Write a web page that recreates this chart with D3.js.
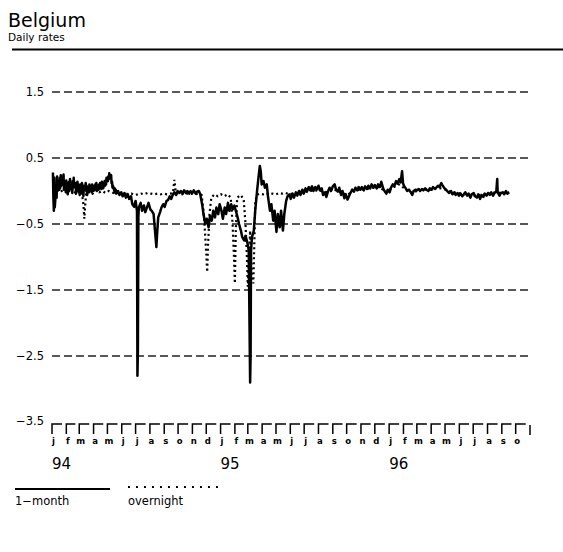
<!DOCTYPE html>
<html>
<head>
<meta charset="utf-8">
<script src="https://cdn.jsdelivr.net/npm/d3@7"></script>
<style>
  body { margin: 0; background: #fff; }
  svg { display: block; font-family: "DejaVu Sans", sans-serif; }
</style>
</head>
<body>
<div id="chart"></div>
<script>
// y grid values and month labels
var yTicks = [1.5, 0.5, -0.5, -1.5, -2.5, -3.5];
var monthLetters = ["j","f","m","a","m","j","j","a","s","o","n","d"];
var yearLabels = [["1994-01-01","94"], ["1995-01-01","95"], ["1996-01-01","96"]];

// 1-month rate
var oneMonth = [
  ["1994-01-03",0.28],["1994-01-04",-0.1],["1994-01-05",-0.3],["1994-01-06",0.2],["1994-01-07",-0.25],
  ["1994-01-10",0.05],["1994-01-11",-0.1],["1994-01-12",0.22],["1994-01-13",0.0],["1994-01-14",0.15],
  ["1994-01-17",0.02],["1994-01-18",0.2],["1994-01-19",0.05],["1994-01-20",0.24],["1994-01-21",0.08],
  ["1994-01-24",0.22],["1994-01-25",0.12],["1994-01-26",0.25],["1994-01-27",0.02],["1994-01-28",0.14],
  ["1994-01-31",-0.02],["1994-02-01",0.16],["1994-02-02",0.0],["1994-02-03",0.12],["1994-02-04",-0.05],
  ["1994-02-07",0.14],["1994-02-08",0.02],["1994-02-09",0.18],["1994-02-10",0.04],["1994-02-11",0.12],
  ["1994-02-14",-0.03],["1994-02-15",0.15],["1994-02-16",0.05],["1994-02-17",0.2],["1994-02-18",0.06],
  ["1994-02-21",0.12],["1994-02-22",-0.04],["1994-02-23",0.1],["1994-02-24",0.0],["1994-02-25",0.14],
  ["1994-02-28",-0.02],["1994-03-01",0.08],["1994-03-02",-0.06],["1994-03-03",0.1],["1994-03-04",0.0],
  ["1994-03-07",0.12],["1994-03-08",-0.04],["1994-03-09",0.06],["1994-03-10",-0.08],["1994-03-11",0.08],
  ["1994-03-14",0.02],["1994-03-15",0.12],["1994-03-16",0.0],["1994-03-17",0.08],["1994-03-18",-0.06],
  ["1994-03-21",0.06],["1994-03-22",-0.02],["1994-03-23",0.1],["1994-03-24",0.02],["1994-03-25",0.08],
  ["1994-03-28",-0.02],["1994-03-29",0.1],["1994-03-30",0.02],["1994-03-31",0.08],["1994-04-01",0.0],
  ["1994-04-05",0.1],["1994-04-06",0.02],["1994-04-07",0.12],["1994-04-08",0.0],["1994-04-11",0.08],
  ["1994-04-12",0.02],["1994-04-13",0.1],["1994-04-14",0.04],["1994-04-15",0.12],["1994-04-18",0.03],
  ["1994-04-19",0.14],["1994-04-20",0.06],["1994-04-21",0.12],["1994-04-22",0.04],["1994-04-25",0.15],
  ["1994-04-26",0.08],["1994-04-27",0.16],["1994-04-28",0.1],["1994-04-29",0.2],["1994-05-02",0.15],
  ["1994-05-03",0.22],["1994-05-04",0.18],["1994-05-05",0.27],["1994-05-06",0.2],["1994-05-09",0.24],
  ["1994-05-10",0.12],["1994-05-11",0.14],["1994-05-12",0.05],["1994-05-13",0.08],["1994-05-16",0.0],
  ["1994-05-17",0.04],["1994-05-18",-0.03],["1994-05-19",0.02],["1994-05-20",-0.04],["1994-05-24",0.0],
  ["1994-05-27",-0.06],["1994-05-31",-0.02],["1994-06-03",-0.08],["1994-06-07",-0.03],["1994-06-10",-0.1],
  ["1994-06-14",-0.05],["1994-06-17",-0.12],["1994-06-21",-0.08],["1994-06-24",-0.2],["1994-06-28",-0.24],
  ["1994-07-01",-0.15],["1994-07-04",-0.3],["1994-07-05",-2.8],["1994-07-06",-2.4],["1994-07-07",-0.4],
  ["1994-07-08",-0.25],["1994-07-12",-0.18],["1994-07-15",-0.3],["1994-07-19",-0.22],["1994-07-22",-0.32],
  ["1994-07-26",-0.24],["1994-07-29",-0.18],["1994-08-02",-0.28],["1994-08-05",-0.3],["1994-08-09",-0.35],
  ["1994-08-12",-0.6],["1994-08-15",-0.85],["1994-08-17",-0.6],["1994-08-19",-0.4],["1994-08-23",-0.32],
  ["1994-08-26",-0.25],["1994-08-30",-0.2],["1994-09-02",-0.24],["1994-09-06",-0.15],["1994-09-09",-0.14],
  ["1994-09-13",-0.08],["1994-09-16",-0.12],["1994-09-20",-0.05],["1994-09-23",-0.02],["1994-09-27",-0.06],
  ["1994-09-30",0.0],["1994-10-04",-0.03],["1994-10-07",0.0],["1994-10-11",-0.04],["1994-10-14",0.01],
  ["1994-10-18",-0.03],["1994-10-21",0.0],["1994-10-25",-0.04],["1994-10-28",0.0],["1994-11-01",-0.03],
  ["1994-11-04",0.01],["1994-11-08",-0.04],["1994-11-11",-0.01],["1994-11-15",0.0],["1994-11-18",-0.05],
  ["1994-11-22",-0.2],["1994-11-25",-0.35],["1994-11-29",-0.5],["1994-12-02",-0.42],["1994-12-06",-0.55],
  ["1994-12-09",-0.38],["1994-12-13",-0.45],["1994-12-16",-0.3],["1994-12-20",-0.4],["1994-12-23",-0.25],
  ["1994-12-27",-0.35],["1994-12-30",-0.2],["1995-01-03",-0.3],["1995-01-06",-0.42],["1995-01-10",-0.25],
  ["1995-01-13",-0.35],["1995-01-17",-0.18],["1995-01-20",-0.3],["1995-01-24",-0.2],["1995-01-27",-0.28],
  ["1995-01-31",-0.22],["1995-02-03",-0.3],["1995-02-07",-0.4],["1995-02-10",-0.5],["1995-02-14",-0.6],
  ["1995-02-17",-0.7],["1995-02-21",-0.75],["1995-02-24",-0.68],["1995-02-28",-0.78],["1995-03-03",-0.9],
  ["1995-03-06",-2.9],["1995-03-07",-2.5],["1995-03-08",-0.9],["1995-03-10",-0.7],["1995-03-14",-0.6],
  ["1995-03-17",-0.3],["1995-03-21",0.0],["1995-03-24",0.2],["1995-03-27",0.38],["1995-03-29",0.3],
  ["1995-03-31",0.1],["1995-04-04",0.15],["1995-04-07",0.05],["1995-04-11",0.1],["1995-04-14",-0.1],
  ["1995-04-18",-0.3],["1995-04-21",-0.2],["1995-04-25",-0.45],["1995-04-28",-0.3],["1995-05-02",-0.62],
  ["1995-05-05",-0.35],["1995-05-09",-0.55],["1995-05-12",-0.3],["1995-05-16",-0.6],["1995-05-19",-0.35],
  ["1995-05-23",-0.15],["1995-05-26",-0.08],["1995-05-30",-0.05],["1995-06-02",-0.12],["1995-06-06",-0.04],
  ["1995-06-09",-0.1],["1995-06-13",-0.02],["1995-06-16",-0.07],["1995-06-20",0.0],["1995-06-23",-0.06],
  ["1995-06-27",0.02],["1995-06-30",-0.04],["1995-07-04",0.04],["1995-07-07",-0.01],["1995-07-11",0.06],
  ["1995-07-14",0.01],["1995-07-18",0.07],["1995-07-21",0.0],["1995-07-25",0.06],["1995-07-28",0.02],
  ["1995-08-01",0.08],["1995-08-04",0.01],["1995-08-08",0.04],["1995-08-11",-0.06],["1995-08-15",-0.02],
  ["1995-08-18",-0.09],["1995-08-22",0.0],["1995-08-25",0.05],["1995-08-29",0.01],["1995-09-01",0.07],
  ["1995-09-05",0.1],["1995-09-08",0.02],["1995-09-12",-0.01],["1995-09-15",0.05],["1995-09-19",-0.06],
  ["1995-09-22",0.0],["1995-09-26",-0.11],["1995-09-29",-0.05],["1995-10-03",-0.13],["1995-10-06",-0.08],
  ["1995-10-10",-0.02],["1995-10-13",0.02],["1995-10-17",-0.01],["1995-10-20",0.05],["1995-10-24",0.01],
  ["1995-10-27",0.06],["1995-10-31",0.02],["1995-11-03",0.06],["1995-11-07",0.01],["1995-11-10",0.07],
  ["1995-11-14",0.03],["1995-11-17",0.08],["1995-11-21",0.04],["1995-11-24",0.1],["1995-11-28",0.05],
  ["1995-12-01",0.09],["1995-12-05",0.04],["1995-12-08",0.1],["1995-12-12",0.06],["1995-12-15",0.14],
  ["1995-12-19",0.04],["1995-12-22",0.0],["1995-12-26",-0.04],["1995-12-29",0.02],["1996-01-02",-0.02],
  ["1996-01-05",0.05],["1996-01-09",0.1],["1996-01-12",0.07],["1996-01-16",0.15],["1996-01-19",0.11],
  ["1996-01-23",0.18],["1996-01-26",0.13],["1996-01-29",0.3],["1996-01-31",0.12],["1996-02-02",0.08],
  ["1996-02-06",0.04],["1996-02-09",0.0],["1996-02-13",0.02],["1996-02-16",-0.01],["1996-02-20",-0.06],
  ["1996-02-23",0.0],["1996-02-27",0.02],["1996-03-01",0.01],["1996-03-05",0.03],["1996-03-08",0.0],
  ["1996-03-12",0.03],["1996-03-15",0.01],["1996-03-19",0.04],["1996-03-22",0.02],["1996-03-26",0.0],
  ["1996-03-29",0.04],["1996-04-02",0.02],["1996-04-05",0.06],["1996-04-09",0.03],["1996-04-12",0.05],
  ["1996-04-16",0.08],["1996-04-19",0.06],["1996-04-23",0.12],["1996-04-26",0.08],["1996-04-30",0.04],
  ["1996-05-03",0.02],["1996-05-07",-0.01],["1996-05-10",-0.03],["1996-05-14",0.0],["1996-05-17",-0.05],
  ["1996-05-21",-0.02],["1996-05-24",-0.06],["1996-05-28",-0.03],["1996-05-31",-0.07],["1996-06-04",-0.04],
  ["1996-06-07",-0.08],["1996-06-11",-0.05],["1996-06-14",-0.02],["1996-06-18",-0.07],["1996-06-21",-0.04],
  ["1996-06-25",-0.1],["1996-06-28",-0.05],["1996-07-02",-0.03],["1996-07-05",-0.08],["1996-07-09",-0.1],
  ["1996-07-12",-0.05],["1996-07-16",-0.12],["1996-07-19",-0.06],["1996-07-23",-0.09],["1996-07-26",-0.04],
  ["1996-07-30",-0.07],["1996-08-02",-0.03],["1996-08-06",-0.06],["1996-08-09",-0.02],["1996-08-13",-0.07],
  ["1996-08-16",-0.03],["1996-08-20",-0.01],["1996-08-22",0.18],["1996-08-23",-0.02],["1996-08-27",-0.07],
  ["1996-08-30",-0.03],["1996-09-03",-0.02],["1996-09-06",-0.05],["1996-09-10",0.0],["1996-09-13",-0.04],
  ["1996-09-17",-0.02]
];

// overnight rate
var overnight = [
  ["1994-01-03",0.1],["1994-01-10",0.0],["1994-01-17",0.05],["1994-01-24",-0.02],["1994-01-31",0.08],
  ["1994-02-07",0.0],["1994-02-14",0.05],["1994-02-21",-0.03],["1994-02-28",0.02],["1994-03-07",-0.05],
  ["1994-03-10",-0.2],["1994-03-12",-0.42],["1994-03-14",-0.2],["1994-03-16",-0.02],["1994-03-23",0.0],
  ["1994-03-30",-0.04],["1994-04-06",0.02],["1994-04-13",-0.02],["1994-04-20",0.0],["1994-04-27",-0.03],
  ["1994-05-04",0.0],["1994-05-11",-0.02],["1994-05-18",-0.04],["1994-05-25",-0.03],["1994-06-01",-0.05],
  ["1994-06-08",-0.03],["1994-06-15",-0.05],["1994-06-22",-0.04],["1994-06-29",-0.06],["1994-07-06",-0.05],
  ["1994-07-13",-0.04],["1994-07-20",-0.05],["1994-07-27",-0.03],["1994-08-03",-0.04],["1994-08-10",-0.05],
  ["1994-08-17",-0.04],["1994-08-24",-0.05],["1994-08-31",-0.04],["1994-09-07",-0.05],["1994-09-14",-0.04],
  ["1994-09-20",-0.03],["1994-09-23",0.17],["1994-09-26",-0.02],["1994-10-03",-0.04],["1994-10-10",-0.05],
  ["1994-10-17",-0.03],["1994-10-24",-0.05],["1994-10-31",-0.04],["1994-11-07",-0.05],["1994-11-14",-0.04],
  ["1994-11-21",-0.06],["1994-11-25",-0.3],["1994-11-28",-0.6],["1994-12-01",-0.95],["1994-12-03",-1.23],
  ["1994-12-05",-0.8],["1994-12-08",-0.35],["1994-12-12",-0.1],["1994-12-19",-0.05],["1994-12-26",-0.08],
  ["1995-01-02",-0.05],["1995-01-09",-0.08],["1995-01-16",-0.05],["1995-01-23",-0.1],["1995-01-27",-0.5],
  ["1995-01-30",-1.0],["1995-02-01",-1.4],["1995-02-03",-0.6],["1995-02-06",-0.1],["1995-02-13",-0.06],
  ["1995-02-20",-0.12],["1995-02-24",-0.5],["1995-02-27",-1.0],["1995-03-01",-1.45],["1995-03-03",-1.1],
  ["1995-03-06",-0.6],["1995-03-09",-1.2],["1995-03-13",-1.4],["1995-03-15",-0.8],["1995-03-17",-0.2],
  ["1995-03-20",-0.06],["1995-03-27",-0.04],["1995-04-03",-0.05],["1995-04-10",-0.03],["1995-04-17",-0.05],
  ["1995-04-24",-0.04],["1995-05-01",-0.05],["1995-05-08",-0.03],["1995-05-15",-0.04],["1995-05-22",-0.03],
  ["1995-05-29",-0.05],["1995-06-12",-0.03],["1995-06-26",-0.02],["1995-07-10",0.0],["1995-07-24",0.01],
  ["1995-08-07",0.0],["1995-08-21",-0.02],["1995-09-04",0.02],["1995-09-18",-0.02],["1995-10-02",-0.06],
  ["1995-10-16",0.0],["1995-10-30",0.02],["1995-11-13",0.03],["1995-11-27",0.05],["1995-12-11",0.06],
  ["1995-12-25",-0.02],["1996-01-08",0.05],["1996-01-22",0.1],["1996-02-05",0.03],["1996-02-19",-0.03],
  ["1996-03-04",0.01],["1996-03-18",0.02],["1996-04-01",0.02],["1996-04-15",0.05],["1996-04-29",0.03],
  ["1996-05-13",-0.01],["1996-05-27",-0.03],["1996-06-10",-0.04],["1996-06-24",-0.06],["1996-07-08",-0.07],
  ["1996-07-22",-0.05],["1996-08-05",-0.04],["1996-08-19",-0.02],["1996-09-02",-0.03],["1996-09-16",-0.02]
];

var W = 563, H = 552;
var pad = {l: 52, r: 33, t: 92, b: 130};
var parse = d3.timeParse("%Y-%m-%d");

var svg = d3.select("#chart").append("svg")
  .attr("width", W)
  .attr("height", H);

var x = d3.scaleTime()
  .domain([parse("1994-01-01"), parse("1996-11-01")])
  .range([pad.l, W - pad.r]);

var y = d3.scaleLinear()
  .domain([1.5, -3.5])
  .range([pad.t, 422]);

// title block
svg.append("text").attr("x", 8).attr("y", 27)
  .attr("font-size", 19).text("Belgium");
svg.append("text").attr("x", 8).attr("y", 41)
  .attr("font-size", 10.5).text("Daily rates");
svg.append("line")
  .attr("x1", 12).attr("x2", W).attr("y1", 49.5).attr("y2", 49.5)
  .attr("stroke", "#000").attr("stroke-width", 1.8);

// dashed grid lines (not at the bottom one)
svg.append("g").attr("class", "grid")
  .selectAll("line")
  .data(yTicks.filter(d => d > -3.5))
  .enter().append("line")
    .attr("x1", pad.l).attr("x2", W - pad.r)
    .attr("y1", d => y(d)).attr("y2", d => y(d))
    .attr("stroke", "#222")
    .attr("stroke-width", 1.4)
    .attr("stroke-dasharray", "8,4");

svg.append("g").attr("class", "ylabels")
  .selectAll("text")
  .data(yTicks)
  .enter().append("text")
    .attr("x", 44)
    .attr("y", d => y(d) - (d === -3.5 ? 1 : 0))
    .attr("dy", "0.35em")
    .attr("text-anchor", "end")
    .attr("font-size", 11.5)
    .text(d => d3.format(".1f")(d).replace("-", "\u2212"));

// month ticks, drawn as little corner brackets
var months = d3.timeMonth.range(x.domain()[0], x.domain()[1]);
var ty = 424;
var ticks = svg.append("g").attr("class", "axis x");
ticks.selectAll("path")
  .data(months)
  .enter().append("path")
    .attr("d", d => {
      var x0 = x(d), x1 = x(d3.timeMonth.offset(d, 1));
      return "M" + x0 + "," + (ty + 10) + "V" + ty + "H" + (x0 + (x1 - x0) * 0.7);
    })
    .attr("fill", "none")
    .attr("stroke", "#000")
    .attr("stroke-width", 1.5);
ticks.append("line")
  .attr("x1", x.range()[1]).attr("x2", x.range()[1])
  .attr("y1", ty + 1).attr("y2", ty + 11)
  .attr("stroke", "#000").attr("stroke-width", 1.5);

ticks.selectAll("text.m")
  .data(months)
  .enter().append("text")
    .attr("class", "m")
    .attr("x", d => x(d) + 1.5)
    .attr("y", 444)
    .attr("text-anchor", "middle")
    .attr("font-size", 8.5)
    .attr("font-weight", "bold")
    .text(d => monthLetters[d.getMonth()]);

ticks.selectAll("text.yr")
  .data(yearLabels)
  .enter().append("text")
    .attr("class", "yr")
    .attr("x", d => x(parse(d[0])))
    .attr("y", 469)
    .attr("font-size", 15)
    .text(d => d[1]);

// series
var line = d3.line()
  .x(d => x(parse(d[0])))
  .y(d => y(d[1]));

svg.append("path")
  .datum(overnight)
  .attr("d", line)
  .attr("fill", "none")
  .attr("stroke", "#000")
  .attr("stroke-width", 2.2)
  .attr("stroke-dasharray", "2,3");

svg.append("path")
  .datum(oneMonth)
  .attr("d", line)
  .attr("fill", "none")
  .attr("stroke", "#000")
  .attr("stroke-width", 2.5)
  .attr("stroke-linejoin", "round");

// legend
var lg = svg.append("g").attr("class", "legend");
lg.append("line").attr("x1", 15).attr("x2", 110).attr("y1", 489).attr("y2", 489)
  .attr("stroke", "#000").attr("stroke-width", 2);
lg.append("line").attr("x1", 128).attr("x2", 222).attr("y1", 487).attr("y2", 487)
  .attr("stroke", "#000").attr("stroke-width", 2).attr("stroke-dasharray", "2,6");
lg.append("text").attr("x", 15).attr("y", 505).attr("font-size", 11.5).text("1\u2212month");
lg.append("text").attr("x", 128).attr("y", 505).attr("font-size", 11.5).text("overnight");
</script>
</body>
</html>
